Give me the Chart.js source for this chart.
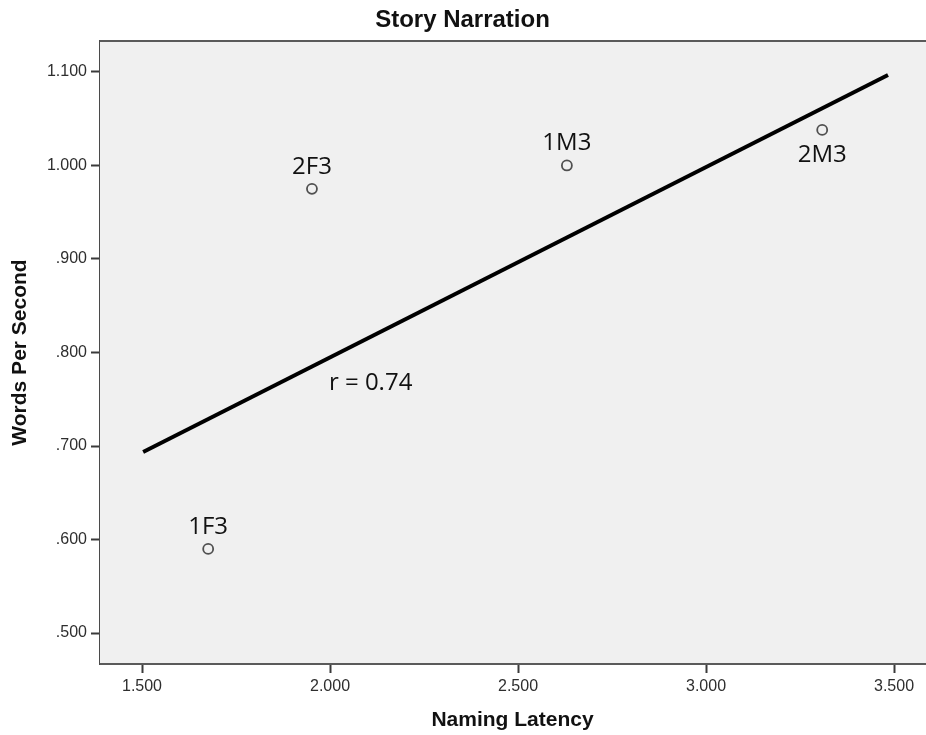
<!DOCTYPE html>
<html>
<head>
<meta charset="utf-8">
<script src="https://cdn.jsdelivr.net/npm/chart.js@4/dist/chart.umd.min.js"></script>
<style>
  html, body { margin: 0; padding: 0; background: #ffffff; }
  #wrap { width: 926px; height: 735px; }
</style>
</head>
<body>
<div id="wrap"><canvas id="c" width="926" height="735"></canvas></div>
<script>
// ---- data ----
const pointLabels = ["1F3", "2F3", "1M3", "2M3"];
const namingLatency = [1.676, 1.952, 2.630, 3.309];
const wordsPerSecond = [0.590, 0.975, 1.000, 1.038];
const labelPlacement = ["above", "above", "above", "below"];
const fitLineX = [1.503, 3.484];
const fitLineY = [0.6936, 1.0968];
const rText = "r = 0.74";
const rTextPos = [1.997, 0.760];
const xTickValues = [1.5, 2.0, 2.5, 3.0, 3.5];
const yTickValues = [0.5, 0.6, 0.7, 0.8, 0.9, 1.0, 1.1];

const scatterData = namingLatency.map((x, i) => ({ x: x, y: wordsPerSecond[i] }));
const lineData = fitLineX.map((x, i) => ({ x: x, y: fitLineY[i] }));

const fmtY = v => { const s = v.toFixed(3); return s.startsWith("0") ? s.slice(1) : s; };
const fmtX = v => v.toFixed(3);

const framePlugin = {
  id: 'frame',
  beforeDatasetsDraw(chart) {
    const { ctx, chartArea: a } = chart;
    ctx.save();
    ctx.fillStyle = '#f0f0f0';
    ctx.fillRect(a.left, a.top, chart.width - a.left, a.bottom - a.top);
    ctx.restore();
  },
  afterDraw(chart) {
    const { ctx, chartArea: a } = chart;
    ctx.save();
    ctx.strokeStyle = '#5a5a5a';
    ctx.lineWidth = 2;
    ctx.beginPath();
    ctx.moveTo(a.left, a.top);
    ctx.lineTo(chart.width, a.top);
    ctx.moveTo(a.left, a.bottom);
    ctx.lineTo(chart.width, a.bottom);
    ctx.stroke();
    ctx.restore();
  }
};

const labelPlugin = {
  id: 'pointLabels',
  afterDatasetsDraw(chart) {
    const { ctx } = chart;
    const meta = chart.getDatasetMeta(1);
    ctx.save();
    ctx.font = '24px "Open Sans", "Noto Sans", sans-serif';
    ctx.fillStyle = '#111111';
    ctx.textAlign = 'center';
    ctx.textBaseline = 'alphabetic';
    meta.data.forEach((el, i) => {
      const y = labelPlacement[i] === 'below' ? el.y + 32 : el.y - 15;
      ctx.fillText(pointLabels[i], el.x, y);
    });
    const xs = chart.scales.x, ys = chart.scales.y;
    ctx.textAlign = 'left';
    ctx.fillText(rText, xs.getPixelForValue(rTextPos[0]), ys.getPixelForValue(rTextPos[1]));
    ctx.restore();
  }
};

new Chart(document.getElementById('c'), {
  data: {
    datasets: [
      {
        type: 'line',
        data: lineData,
        borderColor: '#000000',
        borderWidth: 4,
        pointRadius: 0,
        fill: false,
        tension: 0,
        order: 2
      },
      {
        type: 'scatter',
        data: scatterData,
        pointStyle: 'circle',
        pointRadius: 5,
        pointBorderWidth: 1.8,
        borderColor: '#505050',
        backgroundColor: 'rgba(0,0,0,0)',
        order: 1
      }
    ]
  },
  options: {
    responsive: false,
    animation: false,
    devicePixelRatio: 1,
    layout: { autoPadding: false, padding: { left: 0, right: 1, top: 0, bottom: 0 } },
    plugins: {
      legend: { display: false },
      tooltip: { enabled: false },
      title: {
        display: true,
        text: 'Story Narration',
        color: '#111111',
        font: { family: '"Liberation Sans", Arial, sans-serif', size: 24, weight: 'bold', lineHeight: 1.2 },
        padding: { top: 6, bottom: 6.2 }
      }
    },
    scales: {
      x: {
        type: 'linear',
        position: 'bottom',
        min: 1.3883,
        max: 3.5824,
        afterBuildTicks: s => { s.ticks = xTickValues.map(v => ({ value: v })); },
        afterFit: s => { s.height = 71; s.paddingRight = 0; s.paddingLeft = 0; },
        ticks: {
          callback: v => fmtX(v),
          color: '#2e2e2e',
          font: { family: '"Liberation Sans", Arial, sans-serif', size: 16 },
          padding: 4,
          maxRotation: 0,
          autoSkip: false
        },
        grid: { drawOnChartArea: false, drawTicks: true, tickLength: 9, color: '#3a3a3a', tickWidth: 2 },
        border: { display: true, color: '#4a4a4a', width: 2 },
        title: {
          display: true,
          text: 'Naming Latency',
          color: '#111111',
          font: { family: '"Liberation Sans", Arial, sans-serif', size: 21, weight: 'bold', lineHeight: 1.2 },
          padding: { top: 4, bottom: 2.4 }
        }
      },
      y: {
        type: 'linear',
        position: 'left',
        min: 0.4669,
        max: 1.1331,
        afterBuildTicks: s => { s.ticks = yTickValues.map(v => ({ value: v })); },
        afterFit: s => { s.width = 100; s.paddingTop = 0; s.paddingBottom = 0; },
        ticks: {
          callback: v => fmtY(v),
          color: '#2e2e2e',
          font: { family: '"Liberation Sans", Arial, sans-serif', size: 16 },
          padding: 4,
          autoSkip: false
        },
        grid: { drawOnChartArea: false, drawTicks: true, tickLength: 9, color: '#3a3a3a', tickWidth: 2 },
        border: { display: true, color: '#4a4a4a', width: 2 },
        title: {
          display: true,
          text: 'Words Per Second',
          color: '#111111',
          font: { family: '"Liberation Sans", Arial, sans-serif', size: 21, weight: 'bold', lineHeight: 1.2 },
          padding: { top: 7.4, bottom: 4 }
        }
      }
    }
  },
  plugins: [framePlugin, labelPlugin]
});
</script>
</body>
</html>
